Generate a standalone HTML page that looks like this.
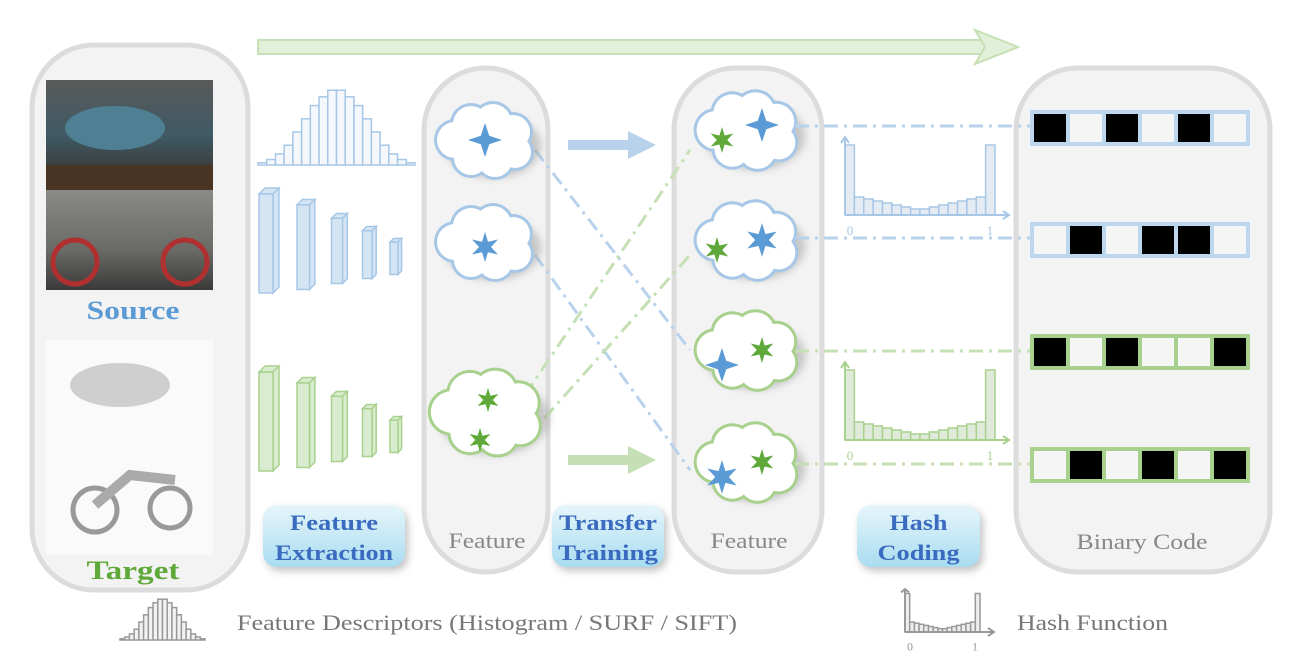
<!DOCTYPE html>
<html><head><meta charset="utf-8"><style>
html,body{margin:0;padding:0;background:#fff;}
svg{display:block;font-family:"Liberation Serif",serif;}
</style></head><body>
<svg id="s" width="1304" height="670" viewBox="0 0 1304 670" xmlns="http://www.w3.org/2000/svg">
<defs>
<linearGradient id="btn" x1="0" y1="0" x2="0" y2="1"><stop offset="0" stop-color="#e6f6fb"/><stop offset="1" stop-color="#a9dcf0"/></linearGradient>
<linearGradient id="car" x1="0" y1="0" x2="0" y2="1"><stop offset="0" stop-color="#5a5a58"/><stop offset="0.5" stop-color="#3f5a66"/><stop offset="1" stop-color="#3b2a20"/></linearGradient>
<linearGradient id="moto" x1="0" y1="0" x2="0" y2="1"><stop offset="0" stop-color="#8a8a86"/><stop offset="0.6" stop-color="#6a6a66"/><stop offset="1" stop-color="#3a3a3a"/></linearGradient>
<filter id="sh" x="-20%" y="-20%" width="140%" height="140%"><feGaussianBlur stdDeviation="4"/></filter>
</defs>
<g id="panels"></g>
<g id="main"></g>
</svg>
<script>
const NS='http://www.w3.org/2000/svg';
// ---- data ----
const descriptorHist=[2,5,10,18,30,42,54,62,68,68,62,54,42,30,18,10,5,2];
const hashHist=[70,18,16,14,12,10,8,6,6,8,10,12,14,16,18,70];
const binaryCodes=[[1,0,1,0,1,0],[0,1,0,1,1,0],[1,0,1,0,0,1],[0,1,0,1,0,1]];
const codeDomains=['source','source','target','target'];
const cnnHeights=[105,90,70,52,36];
const BLUE='#a7c7e7',GREEN='#a9d18e',BLUED='#5b9bd5',GREEND='#5fa83a';
const svg=document.getElementById('s');
function el(tag,attrs,parent){const e=document.createElementNS(NS,tag);for(const k in attrs)e.setAttribute(k,attrs[k]);(parent||svg).appendChild(e);return e;}
function txt(x,y,s,size,fill,weight,parent,anchor,len){const a={x:x,y:y,'font-size':size,fill:fill,'font-weight':weight||'normal','text-anchor':anchor||'middle'};if(len){a.textLength=len;a.lengthAdjust='spacingAndGlyphs';}const t=el('text',a,parent);t.textContent=s;return t;}
const P=document.getElementById('panels'),M=document.getElementById('main');

function panel(x,y,w,h,r,name){
  const g=el('g',{},P);
  
  
  el('rect',{x:x,y:y,width:w,height:h,rx:r,fill:'#f3f3f3',stroke:'#dcdcdc','stroke-width':5},g);
}
panel(32,45,216,545,62,'domain-panel');
panel(424,68,124,504,62,'feature-panel-1');
panel(674,68,148,504,62,'feature-panel-2');
panel(1016,68,254,504,62,'binary-code-panel');

const ta=el('g',{},M);


el('rect',{x:258,y:40,width:730,height:14,fill:'#e2f0d9',stroke:'#c5e0b4','stroke-width':2},ta);
el('polygon',{points:'975,30 1018,47 975,64 985,47',fill:'#e2f0d9',stroke:'#c5e0b4','stroke-width':2},ta);

const im=el('g',{},M);


el('rect',{x:46,y:80,width:167,height:110,fill:'url(#car)'},im);
el('ellipse',{cx:115,cy:128,rx:50,ry:22,fill:'#4f7f92'},im);
el('rect',{x:46,y:165,width:167,height:25,fill:'#4a3424'},im);
el('rect',{x:46,y:190,width:167,height:100,fill:'url(#moto)'},im);
el('circle',{cx:75,cy:262,r:22,fill:'none',stroke:'#b03030','stroke-width':5},im);
el('circle',{cx:185,cy:262,r:22,fill:'none',stroke:'#b03030','stroke-width':5},im);
txt(133,319,'Source',26,BLUED,'bold',M,'middle',93);
const tim=el('g',{},M);


el('rect',{x:46,y:340,width:167,height:215,fill:'#fafafa'},tim);
el('ellipse',{cx:120,cy:385,rx:50,ry:22,fill:'#cfcfcf'},tim);
el('circle',{cx:95,cy:510,r:22,fill:'none',stroke:'#999','stroke-width':5},tim);
el('circle',{cx:170,cy:508,r:20,fill:'none',stroke:'#999','stroke-width':5},tim);
el('path',{d:'M95 505 L130 475 L175 480',fill:'none',stroke:'#aaa','stroke-width':10},tim);
txt(133,579,'Target',26,GREEND,'bold',M,'middle',93);

function descHist(x0,base,w,scale,color,fill,name){
  const g=el('g',{},M);
  
  
  const bw=w/descriptorHist.length;
  descriptorHist.forEach((v,i)=>{
    const b=el('rect',{x:x0+i*bw,y:base-v*scale,width:bw,height:v*scale,fill:fill,stroke:color,'stroke-width':1.5},g);
    
    
  });
}
descHist(258,165,157,1.1,BLUE,'#f4f8fc','feature-descriptor-histogram');
descHist(120,640,85,0.6,'#999','#f3f3f3','legend-descriptor-icon');

function cnn(x0,top,color,fill,name){
  const g=el('g',{},M);
  
  
  let x=x0;
  cnnHeights.forEach((h,i)=>{
    const y=top+(cnnHeights[0]-h)/2+i*4,w=14-i*1.5,d=6-i*0.6;
    el('polygon',{points:`${x},${y+d} ${x+d},${y} ${x+d+w},${y} ${x+w},${y+d}`,fill:fill,stroke:color,'stroke-width':1.5},g);
    el('polygon',{points:`${x+w},${y+d} ${x+d+w},${y} ${x+d+w},${y+h-d} ${x+w},${y+h}`,fill:fill,stroke:color,'stroke-width':1.5},g);
    el('rect',{x:x,y:y+d,width:w,height:h-d,fill:fill,stroke:color,'stroke-width':1.5},g);
    x+=w+24-i*2;
  });
}
cnn(259,188,BLUE,'#d6e5f3','source-cnn');
cnn(259,366,GREEN,'#d9ecd0','target-cnn');

const dl=el('g',{fill:'none','stroke-width':3,'stroke-dasharray':'14 6 3 6'},M);


el('line',{x1:535,y1:150,x2:690,y2:350,stroke:'#b8d2ec'},dl);
el('line',{x1:535,y1:255,x2:690,y2:470,stroke:'#b8d2ec'},dl);
el('line',{x1:525,y1:395,x2:690,y2:150,stroke:'#c5e0b4'},dl);
el('line',{x1:525,y1:440,x2:690,y2:255,stroke:'#c5e0b4'},dl);

function arrow(y,c,name){
  const g=el('g',{},M);
  
  
  el('rect',{x:568,y:y-5,width:62,height:10,fill:c},g);
  el('polygon',{points:`628,${y-14} 656,${y} 628,${y+14}`,fill:c},g);
}
arrow(145,'#b8d2ec','source-transfer-arrow');
arrow(460,'#c5e0b4','target-transfer-arrow');

function star4(cx,cy,r,c,g){el('polygon',{points:`${cx},${cy-r} ${cx+r*0.25},${cy-r*0.25} ${cx+r},${cy} ${cx+r*0.25},${cy+r*0.25} ${cx},${cy+r} ${cx-r*0.25},${cy+r*0.25} ${cx-r},${cy} ${cx-r*0.25},${cy-r*0.25}`,fill:c},g);}
function star6(cx,cy,r,c,g){let p=[];for(let i=0;i<12;i++){const a=Math.PI*i/6-Math.PI/2,rr=i%2?r*0.4:r;p.push((cx+rr*Math.cos(a)).toFixed(1)+','+(cy+rr*Math.sin(a)).toFixed(1));}el('polygon',{points:p.join(' '),fill:c},g);}
function cloud(cx,cy,sc,col,name,stars){
  const g=el('g',{},M);
  
  
  const bl=[[-30,0,18],[-14,-16,18],[8,-18,18],[28,-8,17],[30,12,16],[10,20,17],[-14,18,17]];
  el('ellipse',{cx:cx+8,cy:cy+6,rx:48*sc,ry:32*sc,fill:'#999',opacity:0.5,filter:'url(#sh)'},g);
  bl.forEach(b=>el('circle',{cx:cx+b[0]*sc,cy:cy+b[1]*sc,r:b[2]*sc+3,fill:col},g));
  bl.forEach(b=>el('circle',{cx:cx+b[0]*sc,cy:cy+b[1]*sc,r:b[2]*sc,fill:'#fff'},g));
  el('ellipse',{cx:cx,cy:cy,rx:30*sc,ry:16*sc,fill:'#fff'},g);
  stars.forEach(s=>(s[3]===4?star4:star6)(cx+s[0],cy+s[1],s[2],s[4],g));
}
cloud(485,140,1.0,BLUE,'source-feature-cloud-1',[[0,0,17,4,BLUED]]);
cloud(485,242,1.0,BLUE,'source-feature-cloud-2',[[0,5,15,6,BLUED]]);
cloud(486,412,1.15,GREEN,'target-feature-cloud',[[2,-12,12,6,GREEND],[-6,28,12,6,GREEND]]);
cloud(747,130,1.05,BLUE,'adapted-feature-cloud-1',[[-25,10,13,6,GREEND],[15,-5,17,4,BLUED]]);
cloud(747,240,1.05,BLUE,'adapted-feature-cloud-2',[[-30,10,13,6,GREEND],[15,0,17,6,BLUED]]);
cloud(747,350,1.05,GREEN,'adapted-feature-cloud-3',[[-25,15,17,4,BLUED],[15,0,13,6,GREEND]]);
cloud(747,462,1.05,GREEN,'adapted-feature-cloud-4',[[-25,15,17,6,BLUED],[15,0,13,6,GREEND]]);

function hashPlot(x0,base,w,scale,color,fill,name,labelSize){
  const g=el('g',{},M);
  
  
  const bw=w/hashHist.length;
  hashHist.forEach((v,i)=>{
    const b=el('rect',{x:x0+i*bw,y:base-v*scale,width:bw,height:v*scale,fill:fill,stroke:color,'stroke-width':1.5},g);
    
    
  });
  el('path',{d:`M${x0},${base} L${x0},${base-78*scale} M${x0-4},${base-72*scale} L${x0},${base-78*scale} L${x0+4},${base-72*scale} M${x0},${base} L${x0+w+14},${base} M${x0+w+8},${base-4} L${x0+w+14},${base} L${x0+w+8},${base+4}`,stroke:color,'stroke-width':2,fill:'none'},g);
  txt(x0+5,base+20*labelSize/13,'0',labelSize,color,'normal',g);
  txt(x0+w-5,base+20*labelSize/13,'1',labelSize,color,'normal',g);
}
hashPlot(845,215,150,1.0,BLUE,'#e4ebf2','source-hash-function',13);
hashPlot(845,440,150,1.0,GREEN,'#e0eada','target-hash-function',13);
hashPlot(905,632,75,0.55,'#999','#eee','legend-hash-icon',12);

const hl=el('g',{fill:'none','stroke-width':3,'stroke-dasharray':'14 6 3 6'},M);


[[126,'#b8d2ec'],[238,'#b8d2ec'],[351,'#c5e0b4'],[464,'#c5e0b4']].forEach(l=>el('line',{x1:795,y1:l[0],x2:1030,y2:l[0],stroke:l[1]},hl));

const rowY=[110,222,334,447];
binaryCodes.forEach((row,r)=>{
  const g=el('g',{},M);
  
  
  const c=codeDomains[r]==='source'?'#bdd7ee':GREEN;
  const x0=1030,cw=36,y=rowY[r],h=36;
  el('rect',{x:x0,y:y,width:cw*row.length+4,height:h,fill:c},g);
  row.forEach((b,i)=>{
    const cell=el('rect',{x:x0+4+i*cw,y:y+4,width:cw-4,height:h-8,fill:b?'#000':'#f5f5f5'},g);
    
    
  });
});

function btn(x,y,w,h,l1,l2,name,w1,w2){
  const g=el('g',{},M);
  
  
  el('rect',{x:x+3,y:y+4,width:w,height:h,rx:14,fill:'#888',opacity:0.5,filter:'url(#sh)'},g);
  el('rect',{x:x,y:y,width:w,height:h,rx:14,fill:'url(#btn)'},g);
  txt(x+w/2,y+25,l1,22,'#3a6bc0','bold',g,'middle',w1);
  txt(x+w/2,y+55,l2,22,'#3a6bc0','bold',g,'middle',w2);
}
btn(263,505,142,62,'Feature','Extraction','feature-extraction-step',88,118);
btn(552,505,112,62,'Transfer','Training','transfer-training-step',98,100);
btn(857,505,123,62,'Hash','Coding','hash-coding-step',58,82);

txt(487,548,'Feature',22,'#888','normal',M,'middle',77);
txt(749,548,'Feature',22,'#888','normal',M,'middle',77);
txt(1142,549,'Binary Code',22,'#888','normal',M,'middle',131);
txt(237,630,'Feature Descriptors (Histogram / SURF / SIFT)',22,'#777','normal',M,'start',500);
txt(1017,630,'Hash Function',22,'#777','normal',M,'start',151);
</script>
</body></html>
